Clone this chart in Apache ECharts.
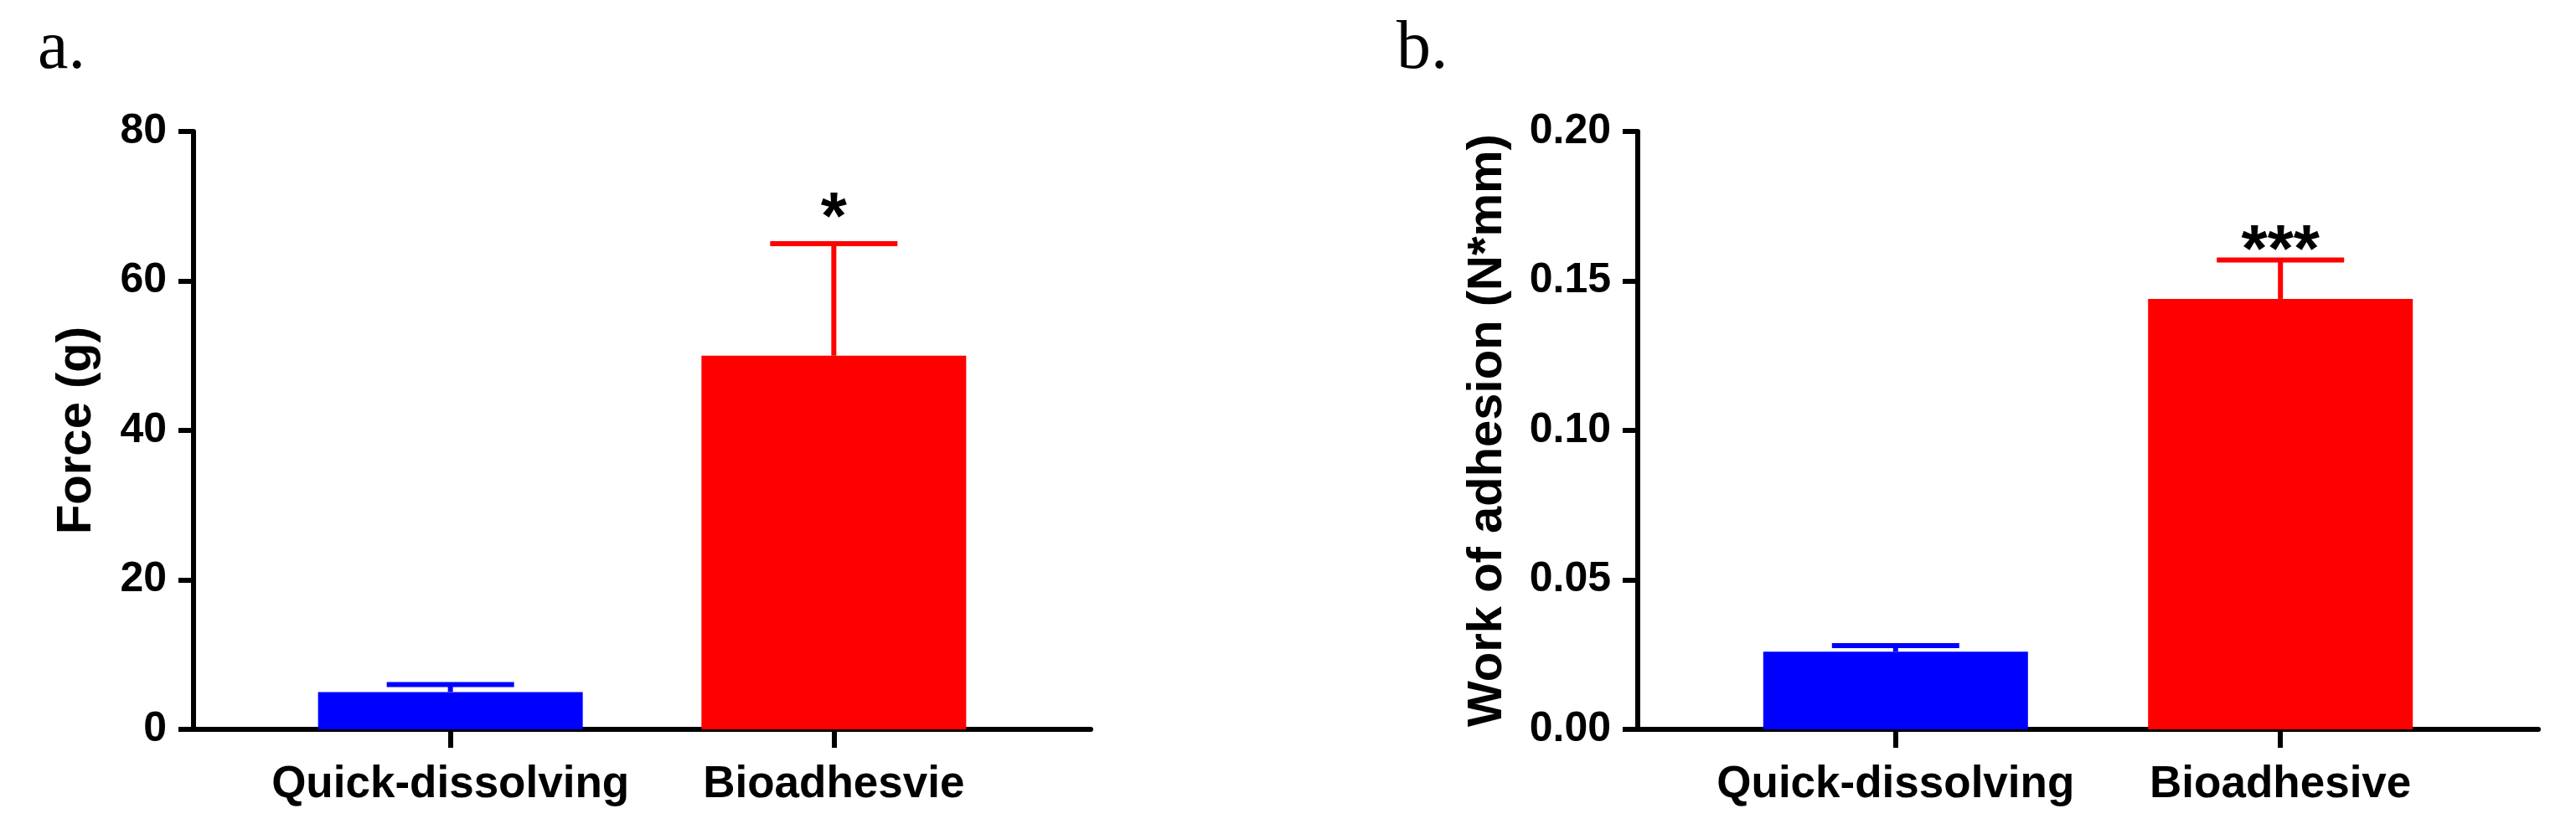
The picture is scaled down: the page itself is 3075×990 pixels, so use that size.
<!DOCTYPE html>
<html><head>
<meta charset="utf-8">
<title>Force / Work of adhesion</title>
<script src="https://cdn.jsdelivr.net/npm/echarts@6/dist/echarts.min.js"></script>
<style>
html,body{margin:0;padding:0;background:#fff}
#main{width:3075px;height:990px}
</style>
</head>
<body>
<div id="main"></div>
<script type="text/javascript">
// panel a
var catsA = ['Quick-dissolving', 'Bioadhesvie'];
var forceMean = [5, 50];
var forceErr = [1, 15];
var forceStars = ['', '*'];
// panel b
var catsB = ['Quick-dissolving', 'Bioadhesive'];
var workMean = [0.026, 0.144];
var workErr = [0.002, 0.013];
var workStars = ['', '***'];

var barColors = ['#0000ff', '#ff0000'];
var catPos = [1, 2];

var FONT = '"Liberation Sans", Arial, sans-serif';

function barData(means) {
    var arr = [];
    for (var i = 0; i < means.length; i++) {
        arr.push({ value: [catPos[i], means[i]], itemStyle: { color: barColors[i] } });
    }
    return arr;
}

function errData(means, errs) {
    var arr = [];
    for (var i = 0; i < means.length; i++) {
        arr.push([catPos[i], means[i], errs[i]]);
    }
    return arr;
}

// error bar (upper only) + significance stars
function errRender(stars, starGap) {
    return function (params, api) {
        var x = api.value(0), m = api.value(1), e = api.value(2);
        var base = api.coord([x, m]);
        var top = api.coord([x, m + e]);
        var c = barColors[params.dataIndex];
        var kids = [
            { type: 'line', shape: { x1: top[0], y1: base[1], x2: top[0], y2: top[1] },
              style: { stroke: c, lineWidth: 6 } },
            { type: 'line', shape: { x1: top[0] - 76, y1: top[1], x2: top[0] + 76, y2: top[1] },
              style: { stroke: c, lineWidth: 6 } }
        ];
        var s = stars[params.dataIndex];
        if (s) {
            kids.push({ type: 'text', style: {
                text: s, x: top[0], y: top[1] - starGap,
                align: 'center', verticalAlign: 'middle',
                font: 'bold 80px ' + FONT, fill: '#000' } });
        }
        return { type: 'group', children: kids };
    };
}

function xAxisFor(cats, idx) {
    return {
        type: 'value', gridIndex: idx, min: 0.33, max: 2.67,
        axisLine: { show: true, lineStyle: { color: '#000', width: 6 } },
        axisTick: { show: true, customValues: catPos, length: 22, lineStyle: { color: '#000', width: 6 } },
        axisLabel: { customValues: catPos, margin: 40, color: '#000',
            fontFamily: FONT, fontWeight: 'bold', fontSize: 53,
            formatter: function (v) { return cats[Math.round(v) - 1]; } },
        splitLine: { show: false }
    };
}

function yAxisFor(idx, max, interval, name, gap, digits) {
    return {
        type: 'value', gridIndex: idx, min: 0, max: max, interval: interval,
        name: name, nameLocation: 'middle', nameRotate: 90, nameGap: gap,
        nameTextStyle: { color: '#000', fontFamily: FONT, fontWeight: 'bold', fontSize: 58 },
        axisLine: { show: true, lineStyle: { color: '#000', width: 6 } },
        axisTick: { show: true, length: 18, lineStyle: { color: '#000', width: 6 } },
        axisLabel: { margin: 32, color: '#000', fontFamily: FONT, fontWeight: 'bold', fontSize: 50,
            formatter: function (v) { return v.toFixed(digits); } },
        splitLine: { show: false }
    };
}

var myChart = echarts.init(document.getElementById('main'));

var option = {
    backgroundColor: '#fff',
    animation: false,
    title: [
        { text: 'a.', left: 40, top: 13,
          textStyle: { fontFamily: '"Liberation Serif", serif', fontWeight: 'normal', fontSize: 82, color: '#000' } },
        { text: 'b.', left: 1662, top: 13,
          textStyle: { fontFamily: '"Liberation Serif", serif', fontWeight: 'normal', fontSize: 82, color: '#000' } }
    ],
    grid: [
        { left: 231, top: 157, width: 1071, height: 714 },
        { left: 1955, top: 157, width: 1075, height: 714 }
    ],
    xAxis: [xAxisFor(catsA, 0), xAxisFor(catsB, 1)],
    yAxis: [
        yAxisFor(0, 80, 20, 'Force (g)', 110, 0),
        yAxisFor(1, 0.2, 0.05, 'Work of adhesion (N*mm)', 150, 2)
    ],
    series: [
        { type: 'bar', xAxisIndex: 0, yAxisIndex: 0, barWidth: 316, data: barData(forceMean) },
        { type: 'custom', xAxisIndex: 0, yAxisIndex: 0, z: 5,
          renderItem: errRender(forceStars, 28), data: errData(forceMean, forceErr) },
        { type: 'bar', xAxisIndex: 1, yAxisIndex: 1, barWidth: 316, data: barData(workMean) },
        { type: 'custom', xAxisIndex: 1, yAxisIndex: 1, z: 5,
          renderItem: errRender(workStars, 9), data: errData(workMean, workErr) }
    ]
};

myChart.setOption(option);
</script>
</body>
</html>
